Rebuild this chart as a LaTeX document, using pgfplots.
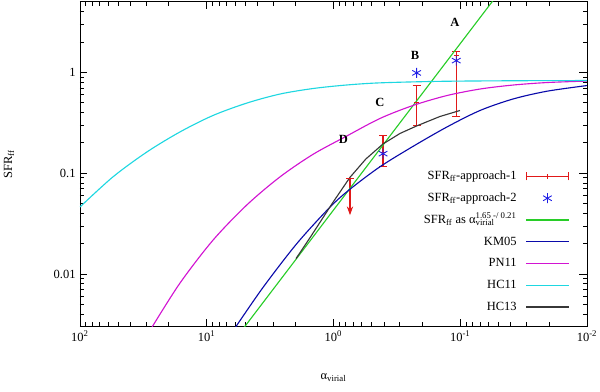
\documentclass[border=0pt]{standalone}
\usepackage{fontspec}
\setmainfont{Liberation Serif}
\usepackage{pgfplots}
\pgfplotsset{compat=1.18}
\usetikzlibrary{arrows.meta}
\definecolor{FitGreen}{RGB}{40,205,40}
\definecolor{KMBlue}{RGB}{10,10,170}
\definecolor{PNMag}{RGB}{210,20,210}
\definecolor{HCCyan}{RGB}{30,215,225}
\definecolor{HCGray}{RGB}{55,55,55}
\definecolor{BarRed}{RGB}{225,25,25}
\definecolor{StarBlue}{RGB}{30,30,230}
\pgfplotsset{
  colour legend/.style={legend image code/.code={\path[draw=#1, line width=1.3pt] (0pt,0.3pt) -- (34pt,0.3pt);}},
  star legend/.style={legend image code/.code={\draw[##1,mark repeat=2,mark phase=2] plot coordinates {(0pt,0pt) (17pt,0pt) (34pt,0pt)};}},
  bar legend/.style={legend image code/.code={\draw[BarRed, line width=1pt] (0pt,0pt) -- (34pt,0pt) (0pt,-3.2pt) -- (0pt,3.2pt) (17pt,-2pt) -- (17pt,2pt) (34pt,-3.2pt) -- (34pt,3.2pt);}},
}

\begin{document}
\begin{tikzpicture}
\begin{axis}[
  at={(0,0)}, anchor=south west,
  scale only axis, width=405.6pt, height=260pt,
  xmode=log, ymode=log, x dir=reverse,
  xmin=0.01, xmax=100, ymin=0.003, ymax=5,
  xtick={0.01,0.1,1,10,100},
  xticklabels={10\textsuperscript{-2},10\textsuperscript{-1},10\textsuperscript{0},10\textsuperscript{1},10\textsuperscript{2}},
  minor xtick={0.02,0.03,0.04,0.05,0.06,0.07,0.08,0.09,0.2,0.3,0.4,0.5,0.6,0.7,0.8,0.9,2,3,4,5,6,7,8,9,20,30,40,50,60,70,80,90},
  ytick={0.01,0.1,1}, yticklabels={0.01,0.1,1},
  minor ytick={0.003,0.004,0.005,0.006,0.007,0.008,0.009,0.02,0.03,0.04,0.05,0.06,0.07,0.08,0.09,0.2,0.3,0.4,0.5,0.6,0.7,0.8,0.9,2,3,4,5},
  tick align=inside, major tick length=6pt, minor tick length=3.5pt,
  tick style={black, line width=0.5pt},
  axis line style={line width=0.6pt},
  xlabel={α\textsubscript{virial}}, ylabel={SFR\textsubscript{ff}},
  xlabel style={at={(axis description cs:0.5,-0.157)}, anchor=center},
  ylabel style={at={(axis description cs:-0.14,0.5)}, anchor=center},
  legend cell align=right, legend plot pos=right,
  legend style={draw=none, fill=none, inner sep=0pt, row sep=6.5pt, column sep=7pt,
    at={(axis description cs:0.966,0.037)}, anchor=south east,
    nodes={inner sep=0pt, text height=8pt, text depth=3pt}},
]
% approach 1: error bars
\addplot[BarRed, line width=1pt, only marks, mark=-, mark size=2pt, bar legend,
  error bars/.cd, y dir=both, y explicit,
  error bar style={BarRed, line width=1pt},
  error mark options={BarRed, mark size=3.2pt, line width=1pt, rotate=90},
  ] coordinates {
  (0.4064,0.160) += (0,0.0766) -= (0,0.0433)
  (0.2208,0.505) += (0,0.234) -= (0,0.208)
  (0.1075,1.46) += (0,0.14) -= (0,1.096)
};
\addlegendentry{SFR\textsubscript{ff}-approach-1}
\addplot[BarRed, line width=1pt, -{Stealth[length=7pt,width=5pt]}, forget plot]
  coordinates {(0.741,0.0882) (0.741,0.0383)};
\addplot[BarRed, line width=1pt, only marks, mark=-, mark size=3.2pt, forget plot]
  coordinates {(0.741,0.0882)};
% approach 2
\addplot[StarBlue, only marks, mark=asterisk, mark size=4pt, line width=0.7pt, star legend]
  coordinates {(0.4064,0.156) (0.2208,0.986) (0.1075,1.305)};
\addlegendentry{SFR\textsubscript{ff}-approach-2}
% power law fit
\addplot[FitGreen, line width=0.9pt, colour legend=FitGreen] coordinates {(10,0.000964) (0.01,85.9)};
\addlegendentry{SFR\textsubscript{ff} as α\rlap{\textsubscript{virial}}\textsuperscript{1.65 -/ 0.21}}
% KM05
\addplot[KMBlue, line width=0.9pt, smooth, colour legend=KMBlue] coordinates {
  (5.985,0.002916) (3.600,0.007354) (1.941,0.02012) (1.066,0.04600) (0.7409,0.06930)
  (0.4297,0.1157) (0.2360,0.1841) (0.1272,0.2871) (0.0698,0.4180) (0.0384,0.5430)
  (0.0207,0.6487) (0.01,0.7386)};
\addlegendentry{KM05}
% PN11
\addplot[PNMag, line width=0.9pt, smooth, colour legend=PNMag] coordinates {
  (27.0,0.00298) (16.26,0.00813) (8.93,0.02164) (4.81,0.04858) (2.64,0.0919)
  (1.452,0.1535) (0.797,0.2312) (0.430,0.3483) (0.236,0.4684) (0.1273,0.5880)
  (0.0698,0.6822) (0.0384,0.747) (0.0207,0.791) (0.01,0.818)};
\addlegendentry{PN11}
% HC11
\addplot[HCCyan, line width=0.9pt, smooth, colour legend=HCCyan] coordinates {
  (100,0.0462) (54.9,0.0919) (29.6,0.1624) (16.26,0.2562) (8.93,0.3729)
  (4.81,0.4958) (2.64,0.6086) (1.452,0.690) (0.797,0.747) (0.430,0.7855)
  (0.1445,0.813) (0.0384,0.824) (0.01,0.828)};
\addlegendentry{HC11}
% HC13
\addplot[HCGray, line width=0.9pt, colour legend=HCGray] coordinates {
  (1.977,0.0142) (1.532,0.02291) (1.009,0.05143) (0.741,0.0909) (0.5546,0.1384)
  (0.4064,0.1949) (0.2985,0.2475) (0.2208,0.2937) (0.1445,0.3646) (0.1005,0.4180)};
\addlegendentry{HC13}
\node[font=\bfseries] at (axis cs:0.11,3.10) {A};
\node[font=\bfseries] at (axis cs:0.2275,1.46) {B};
\node[font=\bfseries] at (axis cs:0.43,0.505) {C};
\node[font=\bfseries] at (axis cs:0.837,0.214) {D};
\end{axis}
\pgfresetboundingbox
\path (-64pt,-52.2pt) rectangle (416pt,261.4pt);
\end{tikzpicture}
\end{document}
